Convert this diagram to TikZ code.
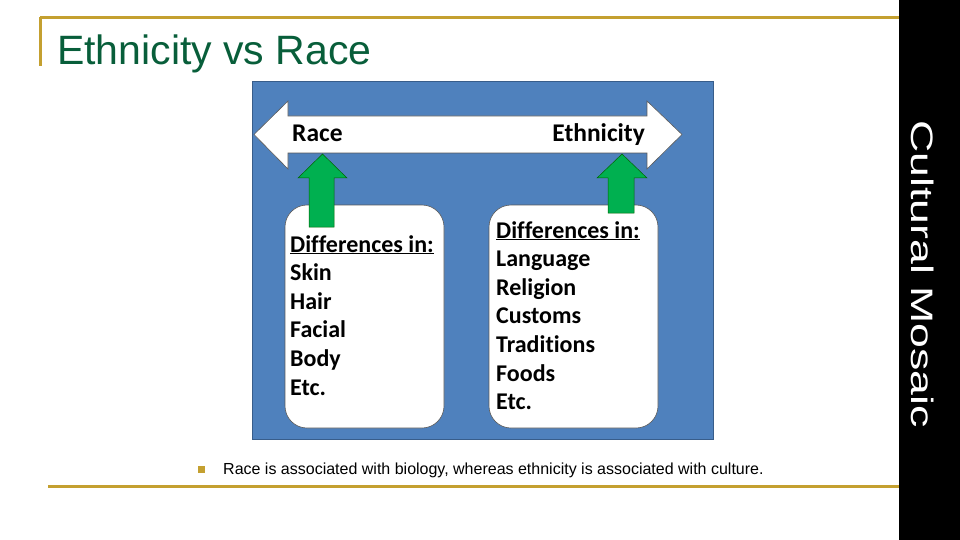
\documentclass[tikz,border=0pt]{standalone}
\usepackage{fontspec}
\setmainfont{Liberation Sans}
\newfontfamily\calibri[Ligatures=NoCommon]{Carlito}
\usetikzlibrary{positioning}

\definecolor{gold}{RGB}{196,160,48}
\definecolor{titlegreen}{RGB}{8,94,58}
\definecolor{panelblue}{RGB}{79,129,189}
\definecolor{paneledge}{RGB}{56,93,138}
\definecolor{arrowgreen}{RGB}{0,176,80}

\tikzset{
  goldline/.style={gold, line width=3pt},
  item/.style={anchor=base west, inner sep=0pt, font=\calibri\bfseries\fontsize{24}{28}\selectfont},
  pole/.style={item, font=\calibri\bfseries\fontsize{25.5}{28}\selectfont},
}

\begin{document}
\begin{tikzpicture}[x=1pt, y=-1pt]
        \useasboundingbox (0,0) rectangle (960,540);

        % frame lines
        \draw[goldline] (40,18) -- (900,18);
        \draw[goldline] (40,17) -- (40,66);
        \draw[goldline] (48,486) -- (900,486);

        % side bar
        \fill[black] (899,0) rectangle (960,540);
        \node[rotate=-90, inner sep=0pt, text=white, font=\fontsize{31}{31}\selectfont] (side) at (923,274)
            {\scalebox{1.44}[1]{Cultural Mosaic}};

        % title
        \node[anchor=base west, inner sep=0pt, text=titlegreen, font=\fontsize{41}{41}\selectfont] (title) at (57,65) {Ethnicity vs Race};

        % panel
        \draw[paneledge, fill=panelblue, line width=0.8pt] (252,81) rectangle (713,439);

        % double arrow
        \draw[gray!70!black, fill=white, line width=0.6pt]
            (254,134.5) -- (288,101) -- (288,116) -- (647,116) -- (647,101) -- (682,134.5)
            -- (647,169) -- (647,153) -- (288,153) -- (288,169) -- cycle;
        \node[pole] (race) at (292,142) {Race};
        \node[pole, anchor=base east] (ethnicity) at (645,142) {Ethnicity};

        % boxes
        \draw[gray!70!black, fill=white, line width=0.6pt, rounded corners=22pt] (285,205) rectangle (444,428);
        \draw[gray!70!black, fill=white, line width=0.6pt, rounded corners=22pt] (489,205) rectangle (658,428);

        % up arrows
        \draw[green!40!black, fill=arrowgreen, line width=0.5pt]
            (322.5,154) -- (347,178) -- (334,178) -- (334,227) -- (309,227) -- (309,178) -- (298,178) -- cycle;
        \draw[green!40!black, fill=arrowgreen, line width=0.5pt]
            (622,154) -- (647,178) -- (634,178) -- (634,213) -- (608,213) -- (608,178) -- (597,178) -- cycle;

        % race list
        \node[item] (rhead) at (290,252) {\underline{Differences in:}};
        \node[item] (skin) at (290,280.6) {Skin};
        \node[item] (hair) at (290,309.2) {Hair};
        \node[item] (facial) at (290,337.8) {Facial};
        \node[item] (body) at (290,366.4) {Body};
        \node[item] (retc) at (290,395) {Etc.};

        % ethnicity list
        \node[item] (ehead) at (496,238) {\underline{Differences in:}};
        \node[item] (language) at (496,266.6) {Language};
        \node[item] (religion) at (496,295.2) {Religion};
        \node[item] (customs) at (496,323.8) {Customs};
        \node[item] (traditions) at (496,352.4) {Traditions};
        \node[item] (foods) at (496,381) {Foods};
        \node[item] (eetc) at (496,409.6) {Etc.};

        % bullet
        \fill[gold] (198,466) rectangle (205,473);
        \node[anchor=base west, inner sep=0pt, font=\fontsize{16}{16}\selectfont] (note) at (223,474)
            {Race is associated with biology, whereas ethnicity is associated with culture.};
\end{tikzpicture}
\end{document}
